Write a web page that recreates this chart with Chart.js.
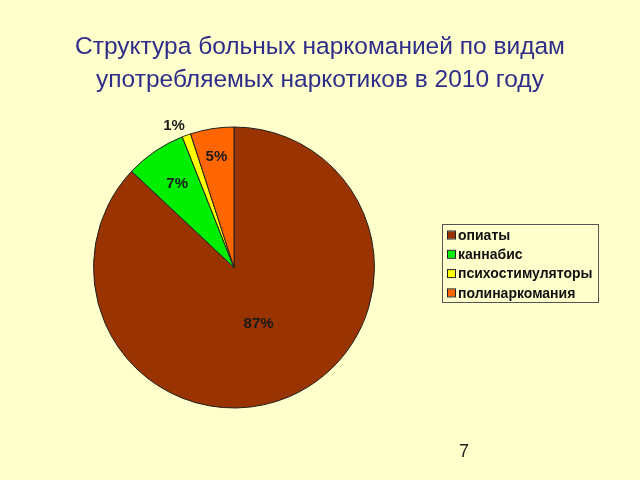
<!DOCTYPE html>
<html>
<head>
<meta charset="utf-8">
<script src="https://cdn.jsdelivr.net/npm/chart.js@4"></script>
<style>
  html, body { margin: 0; padding: 0; background: #FFFFCC; }
  #wrap { width: 640px; height: 480px; position: relative; }
</style>
</head>
<body>
<div id="wrap"><canvas id="chart" width="640" height="480"></canvas></div>
<script>
const titleLines = ['Структура больных наркоманией по видам', 'употребляемых наркотиков в 2010 году'];
const categories = ['опиаты', 'каннабис', 'психостимуляторы', 'полинаркомания'];
const shares = [87, 7, 1, 5];
const sliceColors = ['#993300', '#00EE00', '#FFFF00', '#FF6600'];
const pageNumber = '7';

// where each label sits, as a fraction of the radius
const labelRadius = [0.44, 0.72, 1.07, 0.8];
const labelShift = [0, 0, -9, 0];

const decorPlugin = {
  id: 'decor',
  afterDraw(chart) {
    const ctx = chart.ctx;
    ctx.save();

    // title
    ctx.fillStyle = '#2E2E8A';
    ctx.font = '24.5px "Liberation Sans", Arial, sans-serif';
    ctx.textAlign = 'center';
    ctx.textBaseline = 'middle';
    ctx.fillText(titleLines[0], 320, 47);
    ctx.fillText(titleLines[1], 320, 80);

    // slice labels
    const meta = chart.getDatasetMeta(0);
    ctx.font = 'bold 15px "Liberation Sans", Arial, sans-serif';
    ctx.fillStyle = '#1a1a1a';
    meta.data.forEach((arc, i) => {
      const p = arc.getProps(['x', 'y', 'startAngle', 'endAngle', 'outerRadius'], true);
      const mid = (p.startAngle + p.endAngle) / 2;
      const r = p.outerRadius * labelRadius[i];
      ctx.fillText(shares[i] + '%', p.x + Math.cos(mid) * r + labelShift[i], p.y + Math.sin(mid) * r);
    });

    // legend box
    ctx.strokeStyle = '#555';
    ctx.lineWidth = 1;
    ctx.strokeRect(442.5, 224.5, 156, 78);
    ctx.font = 'bold 14px "Liberation Sans", Arial, sans-serif';
    ctx.textAlign = 'left';
    categories.forEach((c, i) => {
      const y = 235 + i * 19.3;
      ctx.fillStyle = sliceColors[i];
      ctx.fillRect(448, y - 3.5, 7, 7);
      ctx.strokeStyle = '#222';
      ctx.strokeRect(447.5, y - 4, 8, 8);
      ctx.fillStyle = '#111';
      ctx.fillText(c, 458, y + 1);
    });

    // page number
    ctx.font = '18px "Liberation Sans", Arial, sans-serif';
    ctx.textAlign = 'center';
    ctx.fillStyle = '#222';
    ctx.fillText(pageNumber, 464, 452);
    ctx.restore();
  }
};

new Chart(document.getElementById('chart'), {
  type: 'pie',
  data: {
    labels: categories,
    datasets: [{
      data: shares,
      backgroundColor: sliceColors,
      borderColor: '#222',
      borderWidth: 1
    }]
  },
  options: {
    responsive: false,
    animation: false,
    layout: { padding: { left: 93, right: 265, top: 126, bottom: 71 } },
    plugins: {
      legend: { display: false },
      tooltip: { enabled: false }
    }
  },
  plugins: [decorPlugin]
});
</script>
</body>
</html>
